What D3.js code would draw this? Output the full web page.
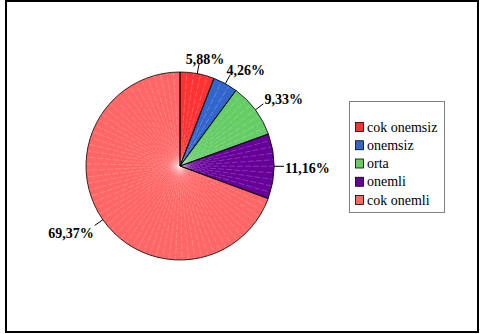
<!DOCTYPE html>
<html><head><meta charset="utf-8">
<script src="https://cdn.jsdelivr.net/npm/d3@7"></script>
<style>body{margin:0;background:#fff}svg{display:block}</style>
</head><body>
<script>
const categories = ["cok onemsiz","onemsiz","orta","onemli","cok onemli"];
const values = [5.88, 4.26, 9.33, 11.16, 69.37];
const labels = ["5,88%","4,26%","9,33%","11,16%","69,37%"];
const colors = ["#ff3333","#3366cc","#66cc66","#660099","#ff6666"];
const FONT = '"Liberation Serif"';

const W = 481, H = 334;
const svg = d3.select("body").append("svg").attr("width", W).attr("height", H);
svg.append("rect").attr("x",6).attr("y",1).attr("width",472).attr("height",331)
  .attr("fill","#fff").attr("stroke","#000").attr("stroke-width",2);

const cx = 180, cy = 166, r = 94;
const g = svg.append("g").attr("transform",`translate(${cx},${cy})`);
const pie = d3.pie().sort(null).value(d=>d)(values);
const arc = d3.arc().innerRadius(0).outerRadius(r);

const defs = svg.append("defs");
const grad = defs.append("radialGradient").attr("id","glow");
grad.append("stop").attr("offset","0%").attr("stop-color","#fff").attr("stop-opacity",0.4);
grad.append("stop").attr("offset","12%").attr("stop-color","#fff").attr("stop-opacity",0);

g.selectAll("path.s").data(pie).join("path").attr("class","s")
  .attr("d",arc).attr("fill",(d,i)=>colors[i]);

// radial texture lines
pie.forEach((d,i)=>{
  const n = Math.max(1, Math.floor((d.endAngle-d.startAngle)/(Math.PI/45)));
  for(let k=1;k<n;k++){
    const a = d.startAngle + (d.endAngle-d.startAngle)*k/n;
    g.append("line").attr("x1",0).attr("y1",0)
      .attr("x2",r*Math.sin(a)).attr("y2",-r*Math.cos(a))
      .attr("stroke","#fff").attr("stroke-opacity",0.3).attr("stroke-width",0.7)
      .attr("stroke-dasharray","6,2").attr("stroke-dashoffset",(k*3)%8);
  }
});
g.append("circle").attr("r",r).attr("fill","url(#glow)");
g.selectAll("path.o").data(pie).join("path").attr("class","o")
  .attr("d",arc).attr("fill","none").attr("stroke","#000").attr("stroke-width",0.8);

// labels with leaders
pie.forEach((d,i)=>{
  const a = (d.startAngle+d.endAngle)/2;
  const s = Math.sin(a), c = -Math.cos(a);
  const x1 = cx + r*s, y1 = cy + r*c;
  const x2 = cx + (r+10)*s, y2 = cy + (r+10)*c;
  svg.append("line").attr("x1",x1).attr("y1",y1).attr("x2",x2).attr("y2",y2)
    .attr("stroke","#000").attr("stroke-width",1);
  const t = svg.append("text").text(labels[i])
    .style("font-family",FONT).style("font-weight","bold").style("font-size","14px").attr("fill","#000");
  const bb = t.node().getBBox();
  const w = bb.width, h = 12;
  const fx = Math.max(-1, Math.min(1, s*1.6));
  const fy = Math.max(-1, Math.min(1, c*1.6));
  const bx = x2 + fx*(w/2+1), by = y2 + fy*(h/2+0.5);
  t.attr("x", bx).attr("y", by + h/2 + 0.5).attr("text-anchor","middle");
});

// legend
const lg = svg.append("g");
lg.append("rect").attr("x",349.5).attr("y",101.5).attr("width",95).attr("height",111)
  .attr("fill","#fff").attr("stroke","#808080").attr("stroke-width",1);
const ly = d3.scalePoint().domain(categories).range([127,200]);
categories.forEach((c,i)=>{
  lg.append("rect").attr("x",355.5).attr("y",ly(c)-4.5).attr("width",8).attr("height",9)
    .attr("fill",colors[i]).attr("stroke","#000").attr("stroke-width",0.8);
  lg.append("text").attr("x",367).attr("y",ly(c)+4.5).text(c)
    .style("font-family",FONT).style("font-size","14px").attr("fill","#000");
});
</script>
</body></html>
